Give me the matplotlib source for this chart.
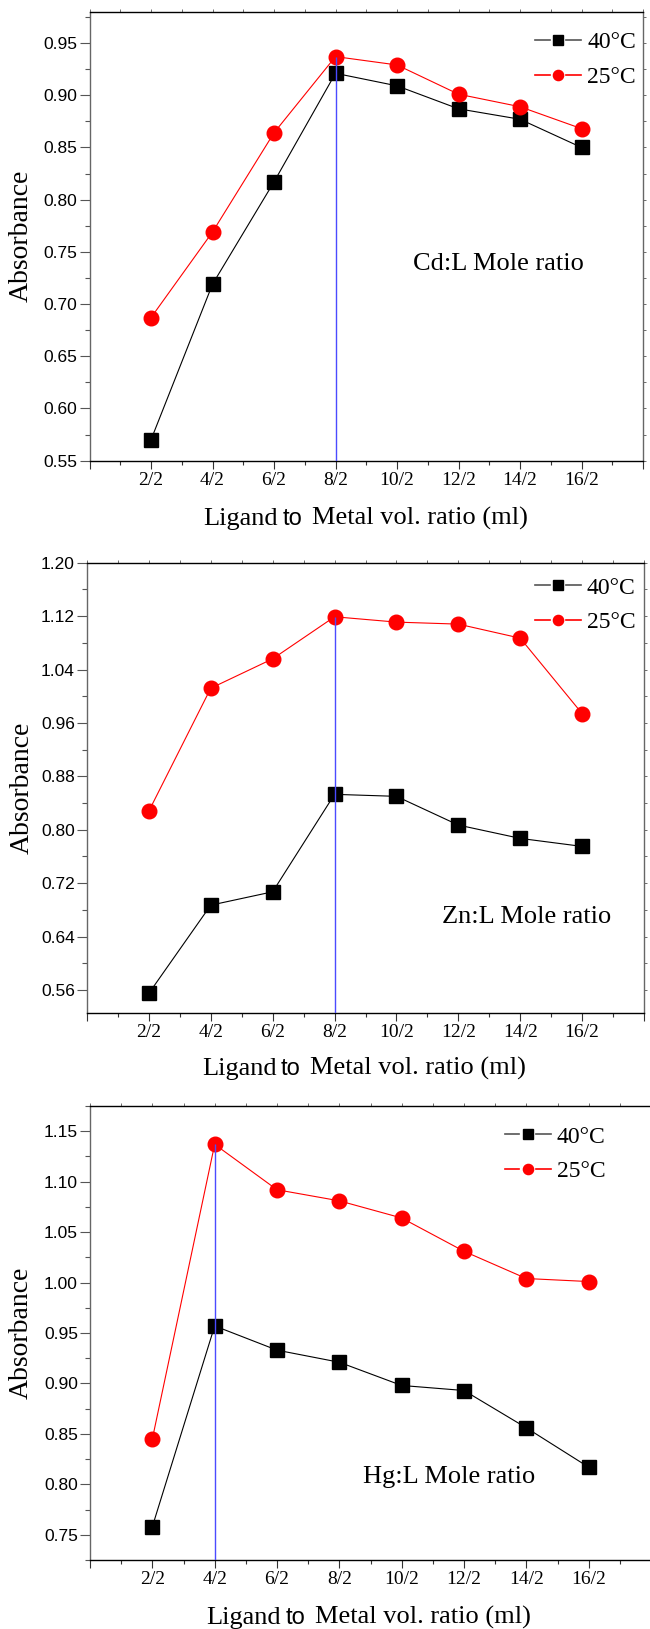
import numpy as np
import matplotlib
matplotlib.use('Agg')
import matplotlib.pyplot as plt
from matplotlib.lines import Line2D
from matplotlib.legend_handler import HandlerLine2D
from matplotlib.ticker import MultipleLocator, FixedLocator, FormatStrFormatter

# x categories: ligand to metal volume ratio
ratio_pos = [1, 2, 3, 4, 5, 6, 7, 8]
ratio_labels = ['2/2', '4/2', '6/2', '8/2', '10/2', '12/2', '14/2', '16/2']

# absorbance readings
cd_40 = [0.570, 0.719, 0.817, 0.921, 0.909, 0.887, 0.877, 0.850]
cd_25 = [0.687, 0.769, 0.864, 0.937, 0.929, 0.901, 0.889, 0.868]

zn_40 = [0.555, 0.687, 0.707, 0.853, 0.850, 0.807, 0.787, 0.775]
zn_25 = [0.828, 1.012, 1.056, 1.119, 1.111, 1.108, 1.087, 0.974]

hg_40 = [0.758, 0.957, 0.933, 0.921, 0.898, 0.893, 0.856, 0.817]
hg_25 = [0.845, 1.137, 1.092, 1.081, 1.064, 1.031, 1.004, 1.001]

W, H = 650, 1629
SERIF = ['Liberation Serif', 'DejaVu Serif']
SANS = ['Liberation Sans', 'DejaVu Sans']

fig = plt.figure(figsize=(W / 100, H / 100), dpi=100)


class GapHandler(HandlerLine2D):
    # Origin style legend key: line - marker - line, with small gaps
    def create_artists(self, legend, orig_handle, xdescent, ydescent,
                       width, height, fontsize, trans):
        y = height / 2 - ydescent
        x0 = -xdescent
        seg = width * 0.32
        lc = '#555555' if orig_handle.get_color() == 'black' else orig_handle.get_color()
        a = Line2D([x0, x0 + seg], [y, y], color=lc, lw=1.2)
        b = Line2D([x0 + width - seg, x0 + width], [y, y], color=lc, lw=1.2)
        m = Line2D([x0 + width / 2], [y], ls='none',
                   marker=orig_handle.get_marker(),
                   ms=orig_handle.get_markersize() * 0.7,
                   mfc=orig_handle.get_markerfacecolor(),
                   mec=orig_handle.get_markeredgecolor())
        for art in (a, b, m):
            art.set_transform(trans)
        return [a, b, m]


def px_rect(left, right, top, bottom):
    return [left / W, 1 - bottom / H, (right - left) / W, (bottom - top) / H]


def panel(rect, v40, v25, ylim, ystep, note, note_xy, leg_xy, ylab_x, xlab_y):
    ax = fig.add_axes(rect)
    l40, = ax.plot(ratio_pos, v40, color='black', lw=0.8, marker='s', ms=10,
                   mec='black', mfc='black', label='40°C', zorder=3)
    l25, = ax.plot(ratio_pos, v25, color='#ff0000', lw=0.8, marker='o', ms=10.5,
                   mec='#ff0000', mfc='#ff0000', label='25°C', zorder=3)

    # vertical guide at the 25°C maximum
    i = int(np.argmax(v25))
    ax.vlines(ratio_pos[i], ylim[0], v25[i], color='#4b4bff', lw=1.0, zorder=4)

    ax.set_xlim(0, 9)
    ax.set_ylim(*ylim)

    ax.xaxis.set_major_locator(FixedLocator(range(0, 10)))
    ax.set_xticklabels([''] + ratio_labels + [''])
    ax.xaxis.set_minor_locator(MultipleLocator(0.5))
    ax.yaxis.set_major_locator(MultipleLocator(ystep))
    ax.yaxis.set_minor_locator(MultipleLocator(ystep / 2))
    ax.yaxis.set_major_formatter(FormatStrFormatter('%.2f'))

    ax.tick_params(axis='x', which='major', direction='out', length=6, width=0.8,
                   pad=2, labelsize=14, color='#333333')
    ax.tick_params(axis='x', which='minor', direction='out', length=3, width=0.8,
                   color='#333333')
    ax.tick_params(axis='y', which='major', direction='out', length=7.2, width=0.8,
                   pad=1.5, labelsize=12.5, color='#555555')
    ax.tick_params(axis='y', which='minor', direction='out', length=3.8, width=0.8,
                   color='#555555')
    for lab in ax.get_xticklabels():
        lab.set_family(SERIF)
    for lab in ax.get_yticklabels():
        lab.set_family(SANS)

    for side in ['left', 'right']:
        ax.spines[side].set_color('#666666')
        ax.spines[side].set_linewidth(1.0)
    for side in ['top', 'bottom']:
        ax.spines[side].set_color('black')
        ax.spines[side].set_linewidth(1.0)

    # tiny mirrored ticks on top and right
    top = ax.secondary_xaxis('top')
    top.xaxis.set_major_locator(FixedLocator(range(0, 10)))
    top.xaxis.set_minor_locator(MultipleLocator(0.5))
    top.tick_params(which='both', direction='out', length=2, width=0.6,
                    labeltop=False, color='#555555')
    top.spines['top'].set_visible(False)
    right = ax.secondary_yaxis('right')
    right.yaxis.set_major_locator(MultipleLocator(ystep))
    right.yaxis.set_minor_locator(MultipleLocator(ystep / 2))
    right.tick_params(which='both', direction='out', length=2, width=0.6,
                      labelright=False, color='#555555')
    right.spines['right'].set_visible(False)

    ax.legend(handles=[l40, l25], loc='upper left', bbox_to_anchor=leg_xy,
              frameon=False, prop={'family': SERIF, 'size': 17}, borderpad=0,
              borderaxespad=0, handlelength=1.95, handletextpad=0.25,
              labelspacing=0.55, handler_map={Line2D: GapHandler()})

    ax.text(note_xy[0], note_xy[1], note, transform=ax.transAxes, ha='left',
            va='center', family=SERIF, size=19)

    ax.text(ylab_x, 0.5, 'Absorbance', transform=ax.transAxes, rotation=90,
            ha='center', va='center', family=SERIF, size=20)

    # x label: "to" is set in a sans face in the original
    t_to = ax.text(0.366, xlab_y, 'to', transform=ax.transAxes, ha='center',
                   va='baseline', family=SANS, size=17)
    ax.annotate('Ligand', xy=(0, xlab_y), xycoords=(t_to, 'axes fraction'),
                xytext=(-3, 0), textcoords='offset points', ha='right',
                va='baseline', family=SERIF, size=19)
    ax.annotate('Metal vol. ratio (ml)', xy=(1, xlab_y),
                xycoords=(t_to, 'axes fraction'), xytext=(7, 0),
                textcoords='offset points', ha='left', va='baseline',
                family=SERIF, size=19)
    return ax


panel(px_rect(89.5, 643, 11.7, 460.7), cd_40, cd_25, (0.55, 0.98), 0.05,
      'Cd:L Mole ratio', (0.584, 0.439), (0.805, 0.955), -0.1225, -0.1425)
panel(px_rect(87, 644, 562.7, 1013.3), zn_40, zn_25, (0.525, 1.20), 0.08,
      'Zn:L Mole ratio', (0.638, 0.214), (0.804, 0.968), -0.117, -0.136)
panel(px_rect(90, 651, 1106, 1560), hg_40, hg_25, (0.725, 1.175), 0.05,
      'Hg:L Mole ratio', (0.486, 0.183), (0.739, 0.956), -0.122, -0.141)

fig.savefig('out.png', dpi=100)
